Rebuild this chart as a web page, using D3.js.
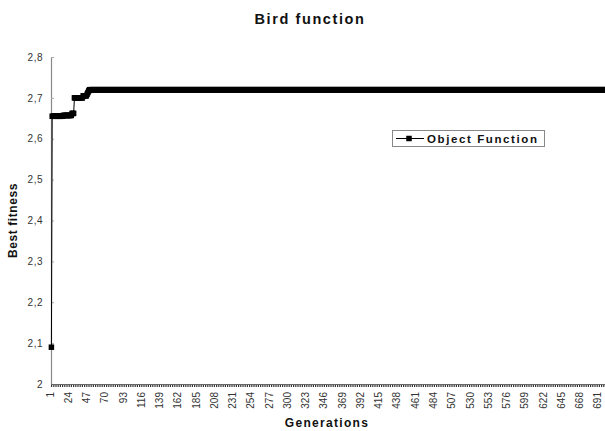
<!DOCTYPE html>
<html>
<head>
<meta charset="utf-8">
<script src="https://cdn.jsdelivr.net/npm/d3@7"></script>
<style>
  body { margin: 0; background: #fff; }
  svg { display: block; font-family: "Liberation Sans", Arial, sans-serif; }
</style>
</head>
<body>
<svg id="chart" width="605" height="431"></svg>
<script>
// Best fitness per generation (GA run on the Bird function)
const bestFitness = [
  2.09,
  2.655, 2.655, 2.655, 2.655, 2.655, 2.655, 2.655, 2.655, 2.655, 2.655, 2.655, 2.655, 2.655, 2.655,
  2.657, 2.657, 2.657, 2.657, 2.657, 2.657, 2.657, 2.657, 2.657, 2.657, 2.657,
  2.662, 2.662, 2.662,
  2.7, 2.7, 2.7, 2.7, 2.7, 2.7, 2.7, 2.7, 2.7, 2.7, 2.7,
  2.705, 2.705, 2.705, 2.705, 2.705,
  2.709, 2.713, 2.717,
  2.72, 2.72, 2.72, 2.72, 2.72, 2.72, 2.72, 2.72, 2.72, 2.72, 2.72, 2.72, 2.72, 2.72, 2.72, 2.72, 2.72, 2.72, 2.72, 2.72,
  2.72, 2.72, 2.72, 2.72, 2.72, 2.72, 2.72, 2.72, 2.72, 2.72, 2.72, 2.72, 2.72, 2.72, 2.72, 2.72, 2.72, 2.72, 2.72, 2.72,
  2.72, 2.72, 2.72, 2.72, 2.72, 2.72, 2.72, 2.72, 2.72, 2.72, 2.72, 2.72, 2.72, 2.72, 2.72, 2.72, 2.72, 2.72, 2.72, 2.72,
  2.72, 2.72, 2.72, 2.72, 2.72, 2.72, 2.72, 2.72, 2.72, 2.72, 2.72, 2.72, 2.72, 2.72, 2.72, 2.72, 2.72, 2.72, 2.72, 2.72,
  2.72, 2.72, 2.72, 2.72, 2.72, 2.72, 2.72, 2.72, 2.72, 2.72, 2.72, 2.72, 2.72, 2.72, 2.72, 2.72, 2.72, 2.72, 2.72, 2.72,
  2.72, 2.72, 2.72, 2.72, 2.72, 2.72, 2.72, 2.72, 2.72, 2.72, 2.72, 2.72, 2.72, 2.72, 2.72, 2.72, 2.72, 2.72, 2.72, 2.72,
  2.72, 2.72, 2.72, 2.72, 2.72, 2.72, 2.72, 2.72, 2.72, 2.72, 2.72, 2.72, 2.72, 2.72, 2.72, 2.72, 2.72, 2.72, 2.72, 2.72,
  2.72, 2.72, 2.72, 2.72, 2.72, 2.72, 2.72, 2.72, 2.72, 2.72, 2.72, 2.72, 2.72, 2.72, 2.72, 2.72, 2.72, 2.72, 2.72, 2.72,
  2.72, 2.72, 2.72, 2.72, 2.72, 2.72, 2.72, 2.72, 2.72, 2.72, 2.72, 2.72, 2.72, 2.72, 2.72, 2.72, 2.72, 2.72, 2.72, 2.72,
  2.72, 2.72, 2.72, 2.72, 2.72, 2.72, 2.72, 2.72, 2.72, 2.72, 2.72, 2.72, 2.72, 2.72, 2.72, 2.72, 2.72, 2.72, 2.72, 2.72,
  2.72, 2.72, 2.72, 2.72, 2.72, 2.72, 2.72, 2.72, 2.72, 2.72, 2.72, 2.72, 2.72, 2.72, 2.72, 2.72, 2.72, 2.72, 2.72, 2.72,
  2.72, 2.72, 2.72, 2.72, 2.72, 2.72, 2.72, 2.72, 2.72, 2.72, 2.72, 2.72, 2.72, 2.72, 2.72, 2.72, 2.72, 2.72, 2.72, 2.72,
  2.72, 2.72, 2.72, 2.72, 2.72, 2.72, 2.72, 2.72, 2.72, 2.72, 2.72, 2.72, 2.72, 2.72, 2.72, 2.72, 2.72, 2.72, 2.72, 2.72,
  2.72, 2.72, 2.72, 2.72, 2.72, 2.72, 2.72, 2.72, 2.72, 2.72, 2.72, 2.72, 2.72, 2.72, 2.72, 2.72, 2.72, 2.72, 2.72, 2.72,
  2.72, 2.72, 2.72, 2.72, 2.72, 2.72, 2.72, 2.72, 2.72, 2.72, 2.72, 2.72, 2.72, 2.72, 2.72, 2.72, 2.72, 2.72, 2.72, 2.72,
  2.72, 2.72, 2.72, 2.72, 2.72, 2.72, 2.72, 2.72, 2.72, 2.72, 2.72, 2.72, 2.72, 2.72, 2.72, 2.72, 2.72, 2.72, 2.72, 2.72,
  2.72, 2.72, 2.72, 2.72, 2.72, 2.72, 2.72, 2.72, 2.72, 2.72, 2.72, 2.72, 2.72, 2.72, 2.72, 2.72, 2.72, 2.72, 2.72, 2.72,
  2.72, 2.72, 2.72, 2.72, 2.72, 2.72, 2.72, 2.72, 2.72, 2.72, 2.72, 2.72, 2.72, 2.72, 2.72, 2.72, 2.72, 2.72, 2.72, 2.72,
  2.72, 2.72, 2.72, 2.72, 2.72, 2.72, 2.72, 2.72, 2.72, 2.72, 2.72, 2.72, 2.72, 2.72, 2.72, 2.72, 2.72, 2.72, 2.72, 2.72,
  2.72, 2.72, 2.72, 2.72, 2.72, 2.72, 2.72, 2.72, 2.72, 2.72, 2.72, 2.72, 2.72, 2.72, 2.72, 2.72, 2.72, 2.72, 2.72, 2.72,
  2.72, 2.72, 2.72, 2.72, 2.72, 2.72, 2.72, 2.72, 2.72, 2.72, 2.72, 2.72, 2.72, 2.72, 2.72, 2.72, 2.72, 2.72, 2.72, 2.72,
  2.72, 2.72, 2.72, 2.72, 2.72, 2.72, 2.72, 2.72, 2.72, 2.72, 2.72, 2.72, 2.72, 2.72, 2.72, 2.72, 2.72, 2.72, 2.72, 2.72,
  2.72, 2.72, 2.72, 2.72, 2.72, 2.72, 2.72, 2.72, 2.72, 2.72, 2.72, 2.72, 2.72, 2.72, 2.72, 2.72, 2.72, 2.72, 2.72, 2.72,
  2.72, 2.72, 2.72, 2.72, 2.72, 2.72, 2.72, 2.72, 2.72, 2.72, 2.72, 2.72, 2.72, 2.72, 2.72, 2.72, 2.72, 2.72, 2.72, 2.72,
  2.72, 2.72, 2.72, 2.72, 2.72, 2.72, 2.72, 2.72, 2.72, 2.72, 2.72, 2.72, 2.72, 2.72, 2.72, 2.72, 2.72, 2.72, 2.72, 2.72,
  2.72, 2.72, 2.72, 2.72, 2.72, 2.72, 2.72, 2.72, 2.72, 2.72, 2.72, 2.72, 2.72, 2.72, 2.72, 2.72, 2.72, 2.72, 2.72, 2.72,
  2.72, 2.72, 2.72, 2.72, 2.72, 2.72, 2.72, 2.72, 2.72, 2.72, 2.72, 2.72, 2.72, 2.72, 2.72, 2.72, 2.72, 2.72, 2.72, 2.72,
  2.72, 2.72, 2.72, 2.72, 2.72, 2.72, 2.72, 2.72, 2.72, 2.72, 2.72, 2.72, 2.72, 2.72, 2.72, 2.72, 2.72, 2.72, 2.72, 2.72,
  2.72, 2.72, 2.72, 2.72, 2.72, 2.72, 2.72, 2.72, 2.72, 2.72, 2.72, 2.72, 2.72, 2.72, 2.72, 2.72, 2.72, 2.72, 2.72, 2.72,
  2.72, 2.72, 2.72, 2.72, 2.72, 2.72, 2.72, 2.72, 2.72, 2.72, 2.72, 2.72, 2.72, 2.72, 2.72, 2.72, 2.72, 2.72, 2.72, 2.72,
  2.72, 2.72, 2.72, 2.72, 2.72, 2.72, 2.72, 2.72, 2.72, 2.72, 2.72, 2.72, 2.72, 2.72, 2.72, 2.72, 2.72, 2.72, 2.72, 2.72,
  2.72, 2.72, 2.72, 2.72, 2.72, 2.72, 2.72, 2.72, 2.72, 2.72, 2.72, 2.72, 2.72, 2.72, 2.72, 2.72, 2.72, 2.72, 2.72, 2.72,
  2.72, 2.72, 2.72, 2.72, 2.72, 2.72, 2.72, 2.72, 2.72, 2.72, 2.72, 2.72
];
// Category labels shown on the generation axis (every 23rd generation)
const genTickLabels = [1, 24, 47, 70, 93, 116, 139, 162, 185, 208, 231, 254, 277, 300, 323, 346, 369,
  392, 415, 438, 461, 484, 507, 530, 553, 576, 599, 622, 645, 668, 691];
const fitnessTicks = [2, 2.1, 2.2, 2.3, 2.4, 2.5, 2.6, 2.7, 2.8];
const seriesName = "Object Function";
const titleText = "Bird function";

const generations = bestFitness.map((_, i) => i + 1);
const svg = d3.select("#chart");

const plot = { left: 51, top: 57, bottom: 384, bandW: 0.794 };

const x = d3.scaleBand()
  .domain(generations)
  .range([plot.left, plot.left + generations.length * plot.bandW])
  .padding(0);
const cx = g => x(g) + x.bandwidth() / 2;

const y = d3.scaleLinear().domain([2, 2.8]).range([plot.bottom, plot.top]);

// Title
svg.append("text")
  .attr("x", 310).attr("y", 24)
  .attr("text-anchor", "middle")
  .attr("font-weight", "bold").attr("font-size", 14.5)
  .attr("letter-spacing", 1.6)
  .attr("fill", "#111")
  .text(titleText);

// Y axis
const yAxis = d3.axisLeft(y)
  .tickValues(fitnessTicks)
  .tickSize(0)
  .tickPadding(8)
  .tickFormat(d => d3.format("~g")(d).replace(".", ","));
const yg = svg.append("g").attr("transform", `translate(${plot.left},0)`).call(yAxis);
yg.select(".domain").attr("stroke", "#888").attr("stroke-width", 1.2);
yg.selectAll(".tick text").attr("font-size", 10).attr("fill", "#333").attr("letter-spacing", 0.5);
yg.selectAll(".tick").append("line")
  .attr("x1", 0).attr("x2", 3).attr("stroke", "#aaa");

// X axis: labels every 23rd generation, rotated
const xAxis = d3.axisBottom(x)
  .tickValues(genTickLabels.filter(g => g <= generations.length))
  .tickSize(0)
  .tickPadding(0);
const xg = svg.append("g").attr("transform", `translate(0,${plot.bottom})`).call(xAxis);
xg.select(".domain").remove();
xg.selectAll(".tick text")
  .attr("transform", "rotate(-90)")
  .attr("text-anchor", "end")
  .attr("x", -8)
  .attr("y", -1.5)
  .attr("dy", "0.35em")
  .attr("font-size", 10)
  .attr("fill", "#333");

// axis line with a tick at every category, giving the dotted band
svg.append("line")
  .attr("x1", plot.left).attr("x2", 605)
  .attr("y1", plot.bottom + 0.5).attr("y2", plot.bottom + 0.5)
  .attr("stroke", "#666").attr("stroke-width", 1);
svg.append("line")
  .attr("x1", plot.left).attr("x2", 605)
  .attr("y1", plot.bottom + 2).attr("y2", plot.bottom + 2)
  .attr("stroke", "#333").attr("stroke-width", 2)
  .attr("stroke-dasharray", "1.2,1");

// Axis titles
svg.append("text")
  .attr("transform", `translate(17,${(plot.top + plot.bottom) / 2}) rotate(-90)`)
  .attr("text-anchor", "middle")
  .attr("font-weight", "bold").attr("font-size", 12)
  .attr("letter-spacing", 0.6)
  .attr("fill", "#111")
  .text("Best fitness");
svg.append("text")
  .attr("x", 327).attr("y", 427)
  .attr("text-anchor", "middle")
  .attr("font-weight", "bold").attr("font-size", 12)
  .attr("letter-spacing", 1.3)
  .attr("fill", "#111")
  .text("Generations");

// Series line and square markers
const line = d3.line().x(d => cx(d.g)).y(d => y(d.v));
const pts = generations.map((g, i) => ({ g, v: bestFitness[i] }));
svg.append("path")
  .datum(pts)
  .attr("d", line)
  .attr("fill", "none").attr("stroke", "#000").attr("stroke-width", 1);
const m = 5.5;
svg.append("g").selectAll("rect")
  .data(pts)
  .join("rect")
  .attr("x", d => cx(d.g) - m / 2)
  .attr("y", d => y(d.v) - m / 2)
  .attr("width", m).attr("height", m)
  .attr("fill", "#000");

// Legend
const lg = svg.append("g").attr("transform", "translate(392,130)");
lg.append("rect")
  .attr("x", 0.5).attr("y", 0.5).attr("width", 152).attr("height", 16)
  .attr("fill", "#fff").attr("stroke", "#888");
lg.append("line")
  .attr("x1", 4).attr("x2", 32).attr("y1", 8.5).attr("y2", 8.5)
  .attr("stroke", "#000").attr("stroke-width", 1);
lg.append("rect")
  .attr("x", 17 - m / 2).attr("y", 8.5 - m / 2).attr("width", m).attr("height", m)
  .attr("fill", "#000");
lg.append("text")
  .attr("x", 35).attr("y", 12.5)
  .attr("font-weight", "bold").attr("font-size", 11.5)
  .attr("letter-spacing", 1.6)
  .attr("fill", "#111")
  .text(seriesName);
</script>
</body>
</html>
